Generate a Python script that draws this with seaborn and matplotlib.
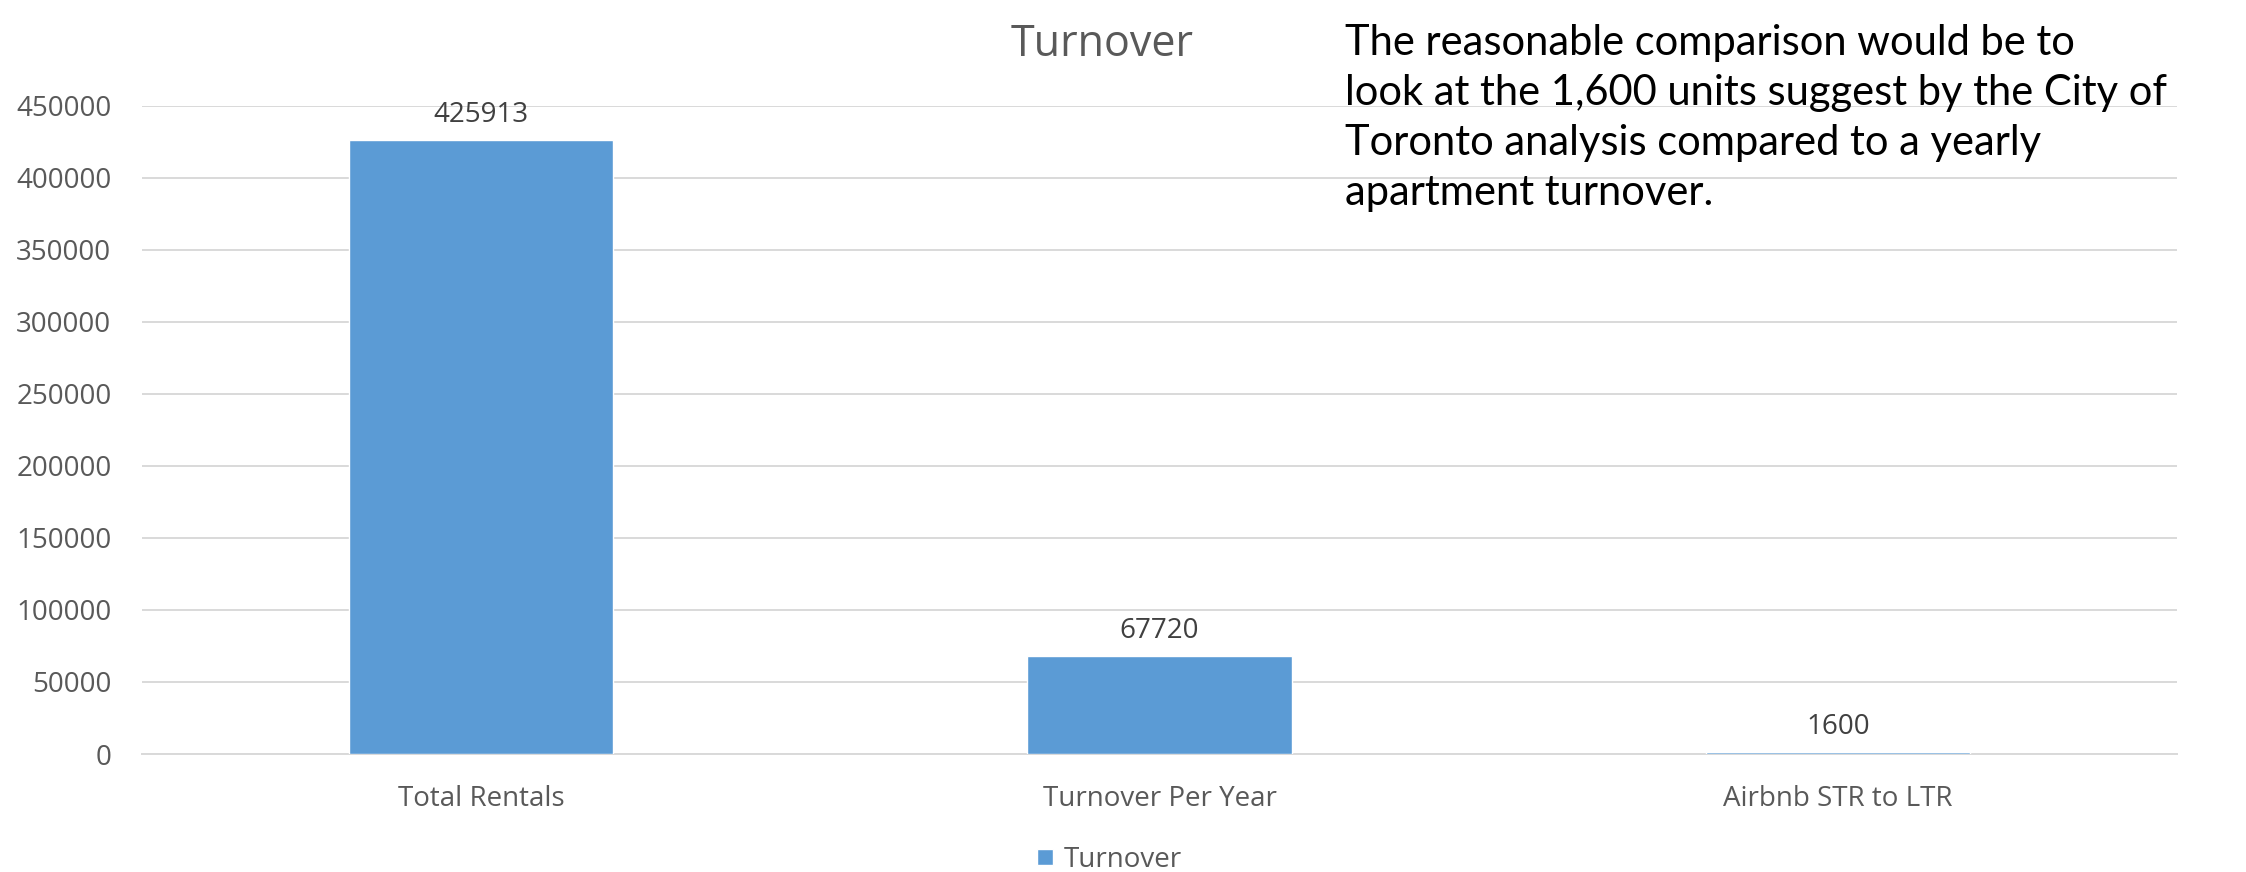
"""
Turnover bar chart: total rentals vs yearly turnover vs Airbnb STR->LTR units.
"""

import pandas as pd
import matplotlib.pyplot as plt
import seaborn as sns

# ── Data ───────────────────────────────────────────────────────────────────
categories = ["Total Rentals", "Turnover Per Year", "Airbnb STR to LTR"]
values = [425913, 67720, 1600]
series_name = "Turnover"
y_ticks = [0, 50000, 100000, 150000, 200000, 250000, 300000, 350000, 400000, 450000]

note = ("The reasonable comparison would be to\n"
        "look at the 1,600 units suggest by the City of\n"
        "Toronto analysis compared to a yearly\n"
        "apartment turnover.")

BAR = "#5B9BD5"
GRID = "#D9D9D9"
TXT = "#595959"

df = pd.DataFrame({"category": categories, "value": values, "series": series_name})

sns.set_theme(style="white")
plt.rcParams["font.family"] = ["Open Sans", "DejaVu Sans"]

fig = plt.figure(figsize=(22.46, 8.72), dpi=100)
ax = fig.add_axes([0.0632, 0.1353, 0.9061, 0.7435])

sns.barplot(data=df, x="category", y="value", hue="series", palette=[BAR],
            saturation=1, width=0.39, dodge=False, edgecolor="white",
            linewidth=1.0, ax=ax, zorder=3)

# data labels above bars
for cont in ax.containers:
    ax.bar_label(cont, labels=[f"{v}" for v in values], padding=8,
                 fontsize=20, color="#404040")

ax.set_ylim(0, 450000)
ax.set_xlim(-0.5, 2.5)
ax.set_yticks(y_ticks)
ax.set_yticklabels([str(t) for t in y_ticks])
ax.yaxis.grid(True, color=GRID, linewidth=1.4, zorder=0)
ax.set_axisbelow(True)

ax.set_xlabel("")
ax.set_ylabel("")
for s in ["left", "top", "right"]:
    ax.spines[s].set_visible(False)
ax.spines["bottom"].set_color(GRID)
ax.spines["bottom"].set_linewidth(1.4)

ax.tick_params(axis="y", length=0, pad=22, labelsize=20, labelcolor=TXT)
ax.tick_params(axis="x", which="major", length=0, pad=22, labelsize=20, labelcolor=TXT)
ax.set_xticks([-0.5, 0.5, 1.5, 2.5], minor=True)
ax.tick_params(axis="x", which="minor", length=7.5, width=1.4, color=GRID)

# chart title
fig.text(0.4907, 0.949, "Turnover", ha="center", va="center", fontsize=31, color=TXT)

# legend at bottom centre
ax.legend(loc="center", bbox_to_anchor=(0.494, 0.014), bbox_transform=fig.transFigure,
          frameon=False, fontsize=20, labelcolor=TXT, handlelength=0.55,
          handleheight=0.55, handletextpad=0.4)

# side note
fig.text(0.5989, 0.972, note, ha="left", va="top", fontsize=30,
         family=["Lato", "DejaVu Sans"], color="black", linespacing=1.38)

fig.savefig("out.png", dpi=100)
